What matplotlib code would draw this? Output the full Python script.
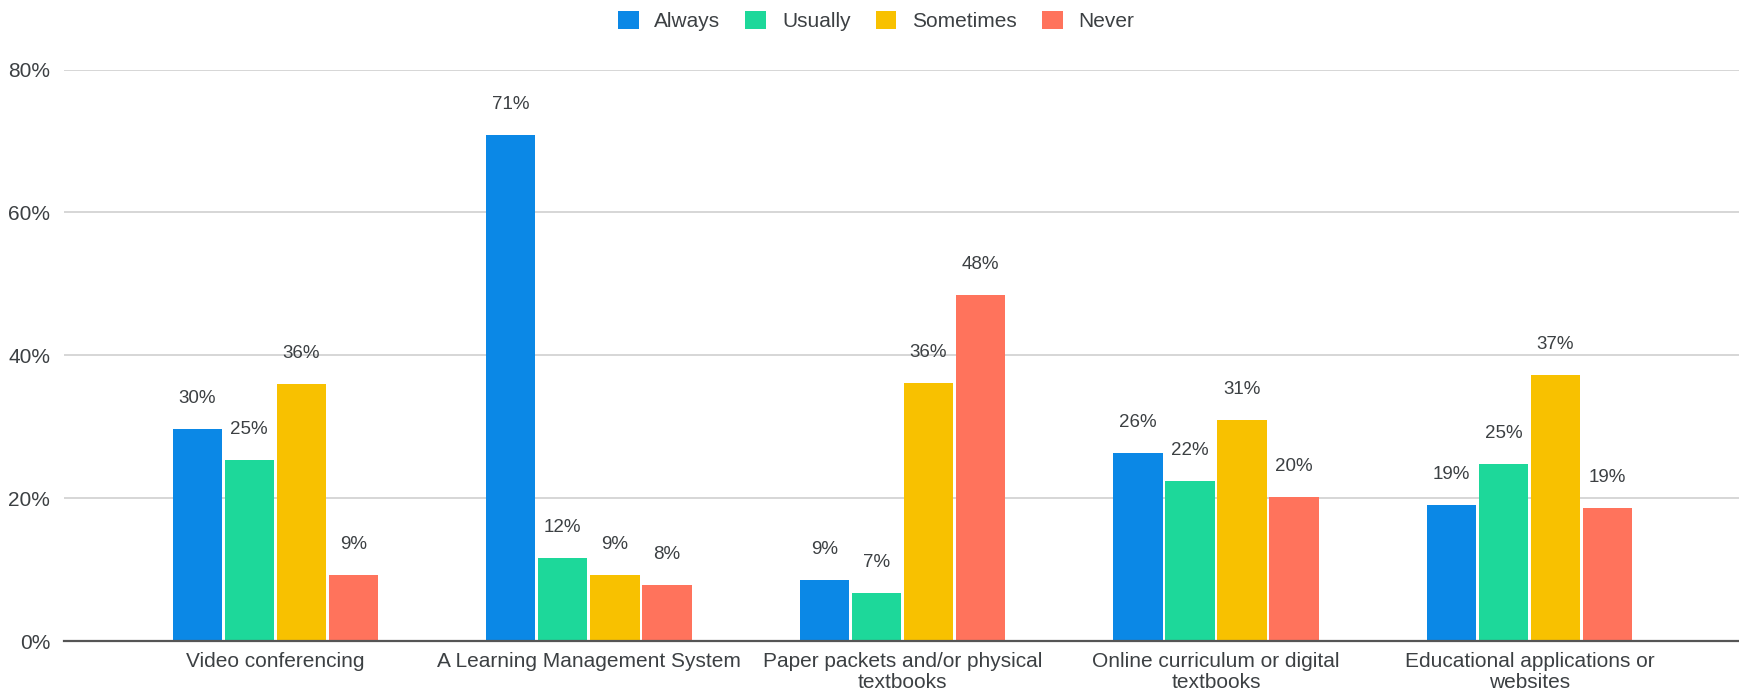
import matplotlib
matplotlib.use('Agg')
import matplotlib.pyplot as plt
from matplotlib.patches import Patch
import numpy as np

plt.rcParams['font.family'] = ['Liberation Sans', 'DejaVu Sans']

categories = ['Video conferencing', 'A Learning Management System',
              'Paper packets and/or physical\ntextbooks',
              'Online curriculum or digital\ntextbooks',
              'Educational applications or\nwebsites']
series = ['Always', 'Usually', 'Sometimes', 'Never']
always = [29.7, 70.9, 8.6, 26.3, 19.0]
usually = [25.3, 11.6, 6.7, 22.4, 24.8]
sometimes = [36.0, 9.2, 36.1, 31.0, 37.2]
never = [9.2, 7.9, 48.4, 20.1, 18.6]
colors = ['#0B88E6', '#1DD89A', '#F8C100', '#FF735C']
yticks = [0, 20, 40, 60, 80]

text_col = '#3C4043'
fs_val = 13.5
fs_axis = 15

fig = plt.figure(figsize=(17.39, 6.93), dpi=100)
ax = fig.add_axes([0.0368, 0.075, 0.9632, 0.8245])

x = np.arange(len(categories))
pitch = 0.166
width = 0.157
for i, (name, vals) in enumerate(zip(series, [always, usually, sometimes, never])):
    pos = x + (i - 1.5) * pitch
    ax.bar(pos, vals, width, color=colors[i], label=name, zorder=3)
    for px, v in zip(pos, vals):
        ax.annotate('%.0f%%' % v, (px, v), xytext=(0, 22), textcoords='offset points',
                    ha='center', va='center', fontsize=fs_val, color=text_col, zorder=4)

ax.set_xlim(-0.674, 4.668)
ax.set_ylim(0, 80)
ax.set_yticks(yticks)
ax.set_yticklabels(['%d%%' % t for t in yticks])
ax.set_xticks(x)
ax.set_xticklabels(categories, linespacing=1.12)
ax.tick_params(axis='both', length=0, labelsize=fs_axis, labelcolor=text_col)
ax.tick_params(axis='y', pad=10)
ax.tick_params(axis='x', pad=8)
ax.grid(axis='y', color='#D0D0D0', linewidth=1.2, zorder=0)
for s in ['top', 'right', 'left']:
    ax.spines[s].set_visible(False)
ax.spines['bottom'].set_color('#555555')
ax.spines['bottom'].set_linewidth(1.6)
ax.spines['bottom'].set_zorder(5)

handles = [Patch(facecolor=c, edgecolor='none', label=n) for c, n in zip(colors, series)]
leg = fig.legend(handles=handles, loc='center', bbox_to_anchor=(876 / 1739, 1 - 21 / 693),
                 ncol=4, frameon=False, fontsize=fs_axis, handlelength=1.0, handleheight=1.0,
                 handletextpad=0.75, columnspacing=1.2, labelcolor=text_col)

fig.savefig('out.png', dpi=100)
